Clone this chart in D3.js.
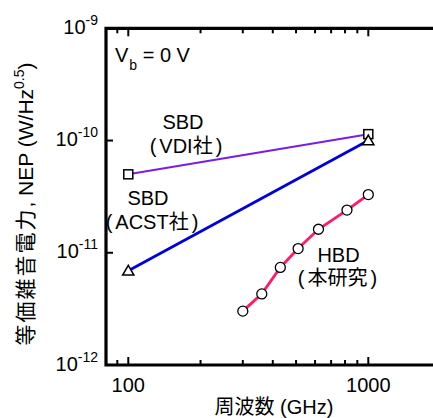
<!DOCTYPE html>
<html><head><meta charset="utf-8">
<script src="https://cdn.jsdelivr.net/npm/d3@7"></script>
<style>
body{margin:0;background:#fff;}
text{font-family:"Liberation Sans",Arial,"Noto Sans CJK JP",sans-serif;fill:#000;}
</style></head>
<body><svg id="c" width="433" height="418"></svg>
<script>
// ---- data ----
const vdiFreq = [100, 1000];
const vdiNEP = [5.0e-11, 1.14e-10];
const acstFreq = [100, 1000];
const acstNEP = [6.9e-12, 1.0e-10];
const hbdFreq = [300, 360, 430, 510, 620, 815, 1000];
const hbdNEP = [3.02e-12, 4.3e-12, 7.4e-12, 1.09e-11, 1.62e-11, 2.4e-11, 3.3e-11];
const xTickLabels = [100, 1000];
const yTickExps = [-9, -10, -11, -12];

const svg = d3.select("#c");
const L = 106, T = 28.3, B = 365, R = 442;
const x = d3.scaleLog().domain([80.75, 2028]).range([L, R]);
const y = d3.scaleLog().domain([1e-12, 1e-9]).range([B, T]);

const col = {vdi:"#7a1fe0", acst:"#0000dc", hbd:"#ff1a6e"};

// minor/major x ticks
const minor = [90,200,300,400,500,600,700,800,900,2000];
const major = [100,1000];
const g = svg.append("g");
function xt(v, len){
  g.append("line").attr("x1",x(v)).attr("x2",x(v)).attr("y1",T).attr("y2",T+len).attr("stroke","#000").attr("stroke-width",2);
  g.append("line").attr("x1",x(v)).attr("x2",x(v)).attr("y1",B).attr("y2",B-len).attr("stroke","#000").attr("stroke-width",2);
}
minor.forEach(v=>xt(v,5));
major.forEach(v=>xt(v,8));
yTickExps.forEach(e=>{
  g.append("line").attr("x1",L).attr("x2",L+7).attr("y1",y(Math.pow(10,e))).attr("y2",y(Math.pow(10,e))).attr("stroke","#000").attr("stroke-width",2);
});
// frame
g.append("path").attr("d",`M${R},${T}H${L}V${B}H${R}`).attr("fill","none").attr("stroke","#000").attr("stroke-width",3.2);

// tick labels
xTickLabels.forEach(v=>{
  svg.append("text").attr("x",x(v)).attr("y",392).attr("text-anchor","middle").attr("font-size",20).text(v);
});
yTickExps.forEach(e=>{
  const t = svg.append("text").attr("x",98).attr("y",y(Math.pow(10,e))+5.5).attr("text-anchor","end").attr("font-size",20);
  t.append("tspan").text("10");
  t.append("tspan").attr("font-size",14).attr("dy",-9).text(String(e));
});

// axis titles
const xtt = svg.append("text").attr("x",274).attr("y",414).attr("text-anchor","middle").attr("font-size",20);
xtt.append("tspan").text("周波数 (");
xtt.append("tspan").text("GHz");
xtt.append("tspan").text(")");
const yt = svg.append("text").attr("transform","translate(33,204) rotate(-90)").attr("text-anchor","middle").attr("font-size",21);
yt.append("tspan").attr("letter-spacing",2).text("等価雑音電力");
yt.append("tspan").text(", NEP (W/Hz");
yt.append("tspan").attr("font-size",14).attr("dy",-9).text("0.5");
yt.append("tspan").attr("dy",9).text(")");

// lines
const line = d3.line().x(d=>x(d[0])).y(d=>y(d[1]));
const vdi = vdiFreq.map((f,i)=>[f,vdiNEP[i]]);
const acst = acstFreq.map((f,i)=>[f,acstNEP[i]]);
const hbd = hbdFreq.map((f,i)=>[f,hbdNEP[i]]);
svg.append("path").attr("d",line(vdi)).attr("fill","none").attr("stroke",col.vdi).attr("stroke-width",2);
svg.append("path").attr("d",line(acst)).attr("fill","none").attr("stroke",col.acst).attr("stroke-width",2.8);
svg.append("path").attr("d",line(hbd)).attr("fill","none").attr("stroke",col.hbd).attr("stroke-width",2.8);

// markers
svg.selectAll(".sq").data(vdi).join("rect").attr("x",d=>x(d[0])-4.5).attr("y",d=>y(d[1])-4.5)
  .attr("width",9).attr("height",9).attr("fill","#fff").attr("stroke","#000").attr("stroke-width",1.5);
const tri = d3.symbol().type(d3.symbolTriangle).size(55);
svg.selectAll(".tr").data(acst).join("path").attr("d",tri).attr("transform",d=>`translate(${x(d[0])},${y(d[1])+1})`)
  .attr("fill","#fff").attr("stroke","#000").attr("stroke-width",1.5);
svg.selectAll(".ci").data(hbd).join("circle").attr("cx",d=>x(d[0])).attr("cy",d=>y(d[1])).attr("r",5)
  .attr("fill","#fff").attr("stroke","#000").attr("stroke-width",1.3);

// annotations
const vb = svg.append("text").attr("x",115).attr("y",62).attr("font-size",20);
vb.append("tspan").text("V");
vb.append("tspan").attr("font-size",14).attr("dy",8).attr("dx",1).text("b");
vb.append("tspan").attr("dy",-8).text(" = 0 V");
function lab(cx, by, s){ svg.append("text").attr("x",cx).attr("y",by).attr("text-anchor","middle").attr("font-size",20).text(s); }
function plab(cx, by, s){
  const t = svg.append("text").attr("x",cx).attr("y",by).attr("text-anchor","middle").attr("font-size",20);
  t.append("tspan").text("(");
  t.append("tspan").attr("dx",3).text(s);
  t.append("tspan").attr("dx",3).text(")");
}
lab(183,129,"SBD"); plab(186,153,"VDI社");
lab(148,205,"SBD"); plab(152,229,"ACST社");
lab(338.5,262,"HBD"); plab(337.5,285,"本研究");
</script></body></html>
